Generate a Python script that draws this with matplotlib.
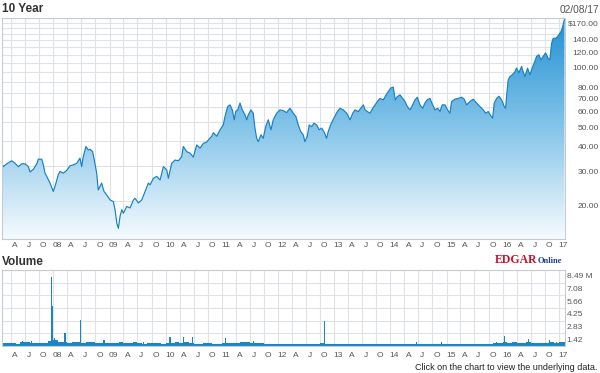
import pandas as pd
import numpy as np
import matplotlib
matplotlib.use("Agg")
import matplotlib.pyplot as plt
import matplotlib.dates as mdates
from matplotlib.colors import LinearSegmentedColormap
from matplotlib.ticker import FixedLocator, FixedFormatter, NullLocator
from matplotlib.transforms import ScaledTranslation

# Precio de cierre (fecha en años decimales, precio en $)
fechas_precio = [
    2007.082, 2007.111, 2007.171, 2007.260, 2007.319, 2007.378, 2007.438, 2007.497,
    2007.556, 2007.586, 2007.645, 2007.705, 2007.734, 2007.794, 2007.823, 2007.853,
    2007.883, 2007.942, 2008.000, 2008.030, 2008.089, 2008.120, 2008.178, 2008.238,
    2008.298, 2008.356, 2008.417, 2008.475, 2008.506, 2008.534, 2008.582, 2008.623,
    2008.653, 2008.701, 2008.730, 2008.773, 2008.801, 2008.861, 2008.903, 2008.951,
    2009.009, 2009.068, 2009.098, 2009.129, 2009.157, 2009.187, 2009.218, 2009.246,
    2009.306, 2009.365, 2009.424, 2009.454, 2009.513, 2009.573, 2009.632, 2009.691,
    2009.721, 2009.780, 2009.840, 2009.899, 2009.958, 2010.018, 2010.047, 2010.107,
    2010.166, 2010.225, 2010.285, 2010.313, 2010.374, 2010.433, 2010.491, 2010.552,
    2010.611, 2010.670, 2010.730, 2010.759, 2010.819, 2010.848, 2010.908, 2010.967,
    2011.025, 2011.056, 2011.104, 2011.145, 2011.186, 2011.221, 2011.246, 2011.282,
    2011.323, 2011.364, 2011.411, 2011.442, 2011.470, 2011.518, 2011.559, 2011.589,
    2011.620, 2011.648, 2011.696, 2011.737, 2011.780, 2011.826, 2011.874, 2011.915,
    2011.975, 2012.034, 2012.093, 2012.153, 2012.212, 2012.271, 2012.319, 2012.360,
    2012.403, 2012.449, 2012.479, 2012.520, 2012.556, 2012.599, 2012.640, 2012.688,
    2012.734, 2012.776, 2012.817, 2012.865, 2012.894, 2012.936, 2012.995, 2013.054,
    2013.102, 2013.161, 2013.221, 2013.280, 2013.328, 2013.369, 2013.428, 2013.470,
    2013.517, 2013.547, 2013.588, 2013.636, 2013.684, 2013.725, 2013.766, 2013.814,
    2013.873, 2013.921, 2013.961, 2014.004, 2014.050, 2014.086, 2014.122, 2014.170,
    2014.218, 2014.259, 2014.300, 2014.348, 2014.395, 2014.437, 2014.478, 2014.525,
    2014.573, 2014.614, 2014.655, 2014.703, 2014.751, 2014.792, 2014.840, 2014.881,
    2014.922, 2014.970, 2015.018, 2015.059, 2015.089, 2015.148, 2015.207, 2015.268,
    2015.314, 2015.356, 2015.415, 2015.474, 2015.534, 2015.593, 2015.652, 2015.695,
    2015.741, 2015.789, 2015.819, 2015.848, 2015.890, 2015.931, 2015.979, 2016.026,
    2016.050, 2016.074, 2016.097, 2016.127, 2016.168, 2016.216, 2016.246, 2016.287,
    2016.335, 2016.364, 2016.394, 2016.442, 2016.483, 2016.524, 2016.572, 2016.602,
    2016.643, 2016.679, 2016.720, 2016.762, 2016.808, 2016.839, 2016.869, 2016.897,
    2016.940, 2016.976, 2016.999, 2017.034, 2017.065, 2017.088, 2017.097,
]
precios = [
    31.0, 29.8, 30.8, 31.9, 31.0, 29.8, 30.8, 30.8,
    29.8, 28.0, 28.9, 30.8, 32.5, 32.5, 30.4, 27.6,
    26.6, 24.6, 22.3, 23.6, 27.1, 28.2, 27.6, 28.5,
    30.1, 30.4, 31.0, 32.9, 29.8, 33.5, 37.7, 36.2,
    36.5, 35.5, 32.2, 27.6, 22.7, 24.6, 22.3, 21.4,
    20.2, 19.8, 18.0, 15.4, 14.5, 16.7, 18.0, 17.3,
    18.7, 18.4, 20.2, 20.6, 19.5, 20.2, 22.3, 24.6,
    24.1, 26.0, 26.6, 25.5, 29.8, 28.7, 26.0, 31.0,
    32.2, 31.9, 33.5, 37.7, 35.5, 34.9, 33.3, 38.4,
    37.0, 39.1, 39.7, 40.7, 42.5, 44.3, 42.5, 45.8,
    48.5, 53.5, 60.1, 61.3, 57.8, 51.5, 56.7, 57.8,
    62.6, 57.8, 54.6, 51.5, 54.6, 57.8, 55.6, 46.7,
    41.5, 39.9, 43.2, 41.5, 47.5, 51.5, 45.8, 51.5,
    55.6, 57.8, 57.3, 56.0, 58.9, 55.6, 53.5, 48.5,
    44.9, 43.2, 39.9, 42.4, 48.5, 47.5, 49.5, 48.5,
    45.8, 46.7, 44.9, 41.5, 44.9, 48.5, 52.5, 56.7,
    58.9, 57.8, 55.6, 51.5, 55.6, 57.8, 56.7, 58.9,
    61.3, 57.8, 56.7, 55.6, 58.9, 61.3, 63.7, 66.1,
    65.0, 68.9, 71.6, 74.6, 75.4, 65.0, 67.5, 68.9,
    66.1, 63.7, 60.1, 57.8, 61.3, 65.0, 67.0, 61.3,
    58.9, 62.6, 65.0, 66.1, 61.3, 57.8, 58.9, 56.7,
    61.3, 61.3, 57.8, 55.6, 63.7, 65.5, 66.1, 67.0,
    65.5, 61.3, 63.7, 65.5, 62.6, 60.1, 57.8, 55.6,
    56.7, 53.8, 52.5, 62.6, 66.1, 67.8, 65.0, 60.1,
    58.9, 70.5, 82.1, 85.2, 87.0, 90.1, 94.2, 89.1,
    96.0, 90.1, 85.2, 94.2, 87.0, 94.2, 102.0, 108.0,
    110.0, 103.7, 108.0, 112.5, 105.6, 103.7, 125.4, 133.3,
    133.3, 135.9, 138.9, 144.1, 152.5, 163.5, 166.0,
]

# Volumen mensual de fondo (millones), feb-2007 a feb-2017
volumen_base = [
    0.30, 0.35, 0.30, 0.25, 0.40, 0.45, 0.35, 0.30, 0.30, 0.35, 0.55,
    0.70, 0.45, 0.40, 0.35, 0.40, 0.50, 0.35, 0.40, 0.45, 0.35, 0.30, 0.30,
    0.30, 0.35, 0.40, 0.30, 0.35, 0.40, 0.30, 0.25, 0.30, 0.35, 0.30, 0.25,
    0.35, 0.30, 0.40, 0.35, 0.40, 0.30, 0.25, 0.25, 0.30, 0.30, 0.25, 0.25,
    0.35, 0.30, 0.30, 0.35, 0.40, 0.45, 0.35, 0.30, 0.30, 0.25, 0.25, 0.20,
    0.25, 0.20, 0.20, 0.20, 0.25, 0.20, 0.20, 0.20, 0.25, 0.30, 0.20, 0.20,
    0.20, 0.20, 0.20, 0.20, 0.20, 0.25, 0.20, 0.20, 0.20, 0.20, 0.20, 0.20,
    0.25, 0.25, 0.20, 0.20, 0.25, 0.20, 0.20, 0.20, 0.20, 0.25, 0.20, 0.20,
    0.25, 0.20, 0.20, 0.25, 0.20, 0.20, 0.20, 0.25, 0.20, 0.25, 0.30, 0.30,
    0.40, 0.35, 0.40, 0.35, 0.35, 0.40, 0.30, 0.30, 0.35, 0.35, 0.40, 0.35,
    0.40, 0.40,
]

# Picos de volumen (fecha en años decimales, millones)
fechas_picos = [
    2007.456, 2007.616, 2007.972, 2007.990, 2008.030, 2008.209, 2008.493, 2008.903,
    2009.602, 2010.077, 2010.313, 2010.481, 2011.073, 2011.559, 2012.835, 2014.467,
    2014.911, 2015.890, 2016.038, 2016.453, 2016.839, 2016.958,
]
picos = [
    0.60, 0.60, 7.67, 4.47, 0.86, 1.42, 2.90, 0.67,
    0.45, 0.97, 0.97, 1.00, 0.86, 0.60, 2.80, 0.50,
    0.45, 0.50, 1.12, 0.75, 0.67, 0.50,
]

precio_ticks = [20, 30, 40, 50, 60, 70, 80, 90, 100, 110, 120, 130, 140, 150, 160, 170]
precio_etiquetas = ["20.00", "30.00", "40.00", "50.00", "60.00", "70.00", "80.00", "",
                    "100.00", "", "120.00", "", "140.00", "", "", "$170.00"]
vol_ticks = [0, 1.415, 2.83, 4.245, 5.66, 7.075, 8.49]
vol_etiquetas = ["", "1.42", "2.83", "4.25", "5.66", "7.08", "8.49 M"]


def a_fecha(t):
    anio = int(t)
    return pd.Timestamp(anio, 1, 1) + pd.Timedelta(days=(t - anio) * 365.25)


plt.rcParams["font.family"] = ["Liberation Sans", "DejaVu Sans"]

W, H = 600, 373
fig = plt.figure(figsize=(W / 100, H / 100), dpi=100)
fig.patch.set_facecolor("white")

ax = fig.add_axes([2 / W, 1 - 239 / H, 562.5 / W, 221.5 / H])
axv = fig.add_axes([2 / W, 1 - 346 / H, 562.5 / W, 76 / H])

x_precio = [a_fecha(t) for t in fechas_precio]
ymin, ymax = 12.8, 170
x_ini, x_fin = a_fecha(2007.087), a_fecha(2017.097)

# Relleno con degradado recortado bajo la línea
relleno = ax.fill_between(x_precio, precios, ymin, color="none", lw=0)
cmap = LinearSegmentedColormap.from_list(
    "azul", [(0, "#f6fbfe"), (0.5, "#86c5e9"), (1, "#2190d3")])
grad = np.linspace(0, 1, 256).reshape(-1, 1)
im = ax.imshow(grad, aspect="auto", cmap=cmap, origin="lower",
               extent=[0, 1, 0, 1], transform=ax.transAxes, zorder=1)
im.set_clip_path(relleno.get_paths()[0], transform=ax.transData)
ax.plot(x_precio, precios, color="#1a80c2", lw=0.85, zorder=2)

ax.set_yscale("log")
ax.set_xlim(x_ini, x_fin)
ax.set_ylim(ymin, ymax)

# Ejes de tiempo: trimestres
trimestres = pd.date_range("2007-04-01", "2017-01-01", freq="QS")
etiquetas_x = [f"{d.year % 100:02d}" if d.month == 1 else {4: "A", 7: "J", 10: "O"}[d.month]
               for d in trimestres]

gris_rejilla = "#dfe3e8"
gris_borde = "#c6cbd1"

for a in (ax, axv):
    a.xaxis.set_major_locator(FixedLocator(mdates.date2num(trimestres)))
    a.xaxis.set_major_formatter(FixedFormatter(etiquetas_x))
    a.xaxis.set_minor_locator(NullLocator())
    a.set_axisbelow(True)
    a.grid(True, color=gris_rejilla, lw=0.8)
    for s in a.spines.values():
        s.set_color(gris_borde)
        s.set_linewidth(0.8)
    a.tick_params(axis="both", which="both", length=0, labelsize=6, labelcolor="#555555")
    a.tick_params(axis="y", left=False, right=False, labelleft=False, labelright=True)

ax.yaxis.set_major_locator(FixedLocator(precio_ticks))
ax.yaxis.set_major_formatter(FixedFormatter(precio_etiquetas))
ax.yaxis.set_minor_locator(NullLocator())
ax.tick_params(axis="y", pad=24.6)
ax.tick_params(axis="x", pad=2.2)

# Volumen
meses = pd.date_range("2007-02-01", "2017-02-01", freq="MS") + pd.Timedelta(days=15)
axv.bar(meses, volumen_base, width=31, color="#1a85c4", lw=0)
axv.bar([a_fecha(t) for t in fechas_picos], picos, width=7, color="#1a85c4", lw=0)
axv.set_xlim(x_ini, x_fin)
axv.set_ylim(0, 8.49)
axv.yaxis.set_major_locator(FixedLocator(vol_ticks))
axv.yaxis.set_major_formatter(FixedFormatter(vol_etiquetas))
axv.tick_params(axis="y", pad=1.5)
axv.tick_params(axis="x", pad=4.3)

# Desplazar etiquetas
despl_x = ScaledTranslation(4 / 100, 0, fig.dpi_scale_trans)
for a in (ax, axv):
    for lbl in a.get_xticklabels():
        lbl.set_transform(lbl.get_transform() + despl_x)
for lbl in ax.get_yticklabels():
    lbl.set_horizontalalignment("right")
    lbl.set_transform(lbl.get_transform() + ScaledTranslation(0, -5 / 100, fig.dpi_scale_trans))
for lbl in axv.get_yticklabels():
    lbl.set_transform(lbl.get_transform() + ScaledTranslation(0, -5.7 / 100, fig.dpi_scale_trans))

# Textos
fig.text(1.7 / W, 1 - 9.3 / H, "10 Year", fontsize=8.5, fontweight="bold",
         color="#333333", ha="left", va="center")
fig.text(1.7 / W, 1 - 262.3 / H, "Volume", fontsize=8.5, fontweight="bold",
         color="#333333", ha="left", va="center")
fig.text(599 / W, 1 - 10 / H, "02/08/17", fontsize=7.3, color="#555555",
         ha="right", va="center")
fig.text(597.5 / W, 1 - 367.3 / H, "Click on the chart to view the underlying data.",
         fontsize=6.5, color="#222222", ha="right", va="center")
fig.text(537.3 / W, 1 - 262.7 / H, "EDGAR", family="Liberation Serif", fontweight="bold",
         fontsize=8.5, color="#c8102e", ha="right", va="baseline")
fig.text(537.3 / W, 1 - 262.7 / H, "Online", family="Liberation Serif", fontweight="bold",
         fontsize=6, color="#1f3c88", ha="left", va="baseline")

fig.savefig("out.png", dpi=100, facecolor="white")
